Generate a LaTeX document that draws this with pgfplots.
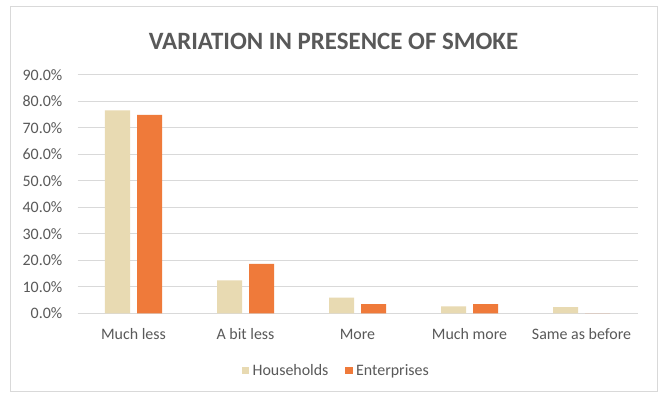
\documentclass[border=0pt]{standalone}
\usepackage{pgfplots}
\pgfplotsset{compat=1.18}
\usepackage{fontspec}
\setmainfont{Carlito}

\definecolor{txtgray}{HTML}{595959}
\definecolor{gridgray}{HTML}{D9D9D9}
\definecolor{framegray}{HTML}{D9D9D9}
\definecolor{hhcolor}{HTML}{E8DAB2}
\definecolor{entcolor}{HTML}{EF7A3A}

\begin{document}
\begin{tikzpicture}
  % overall canvas and chart frame
  \useasboundingbox (0,0) rectangle (662bp,394bp);
  \fill[white] (0,0) rectangle (662bp,394bp);
  \draw[framegray, line width=1bp] (10bp,387bp) rectangle (657bp,2.5bp);

  % chart title
  \node[anchor=base, inner sep=0pt, text=txtgray,
        font=\fontsize{25}{30}\selectfont\bfseries]
       at (333.5bp,344.7bp) {VARIATION IN PRESENCE OF SMOKE};

  \begin{axis}[
      at={(77.5bp,80.7bp)}, anchor=south west,
      scale only axis,
      width=560bp, height=238.6bp,
      ybar=7bp, bar width=25bp,
      xmin=-0.5, xmax=4.5,
      ymin=0, ymax=90,
      xtick=data,
      xticklabels={Much less, A bit less, More, Much more, Same as before},
      ytick={0,10,...,90},
      yticklabels={0.0\%,10.0\%,20.0\%,30.0\%,40.0\%,50.0\%,60.0\%,70.0\%,80.0\%,90.0\%},
      /pgf/number format/assume math mode=true,
      axis line style={draw=none},
      major tick length=0pt,
      tick style={draw=none},
      ymajorgrids,
      grid style={gridgray, line width=1bp},
      yticklabel style={font=\fontsize{16}{19}\selectfont, text=txtgray,
                        inner sep=0pt, anchor=east, xshift=-15bp},
      xticklabel style={font=\fontsize{16}{19}\selectfont, text=txtgray,
                        inner sep=0pt, anchor=base, yshift=-26.7bp},
      legend columns=2,
      legend style={at={(axis description cs:0.293,-0.2397)}, anchor=west,
                    draw=none, fill=none, inner sep=0pt, outer sep=0pt,
                    font=\fontsize{16}{19}\selectfont, text=txtgray,
                    nodes={inner sep=0pt},
                    column sep=3.4bp,
                    /tikz/every even column/.append style={column sep=16.7bp}},
      legend image code/.code={\fill[#1] (0bp,-3.8bp) rectangle (7.6bp,3.8bp);},
    ]
    \addplot[fill=hhcolor, draw=none] coordinates {
      (0,76.5) (1,12.4) (2,5.9) (3,2.6) (4,2.3)};
    \addlegendentry{Households}
    \addplot[fill=entcolor, draw=none] coordinates {
      (0,74.8) (1,18.6) (2,3.5) (3,3.5) (4,0)};
    \addlegendentry{Enterprises}
  \end{axis}
\end{tikzpicture}
\end{document}
